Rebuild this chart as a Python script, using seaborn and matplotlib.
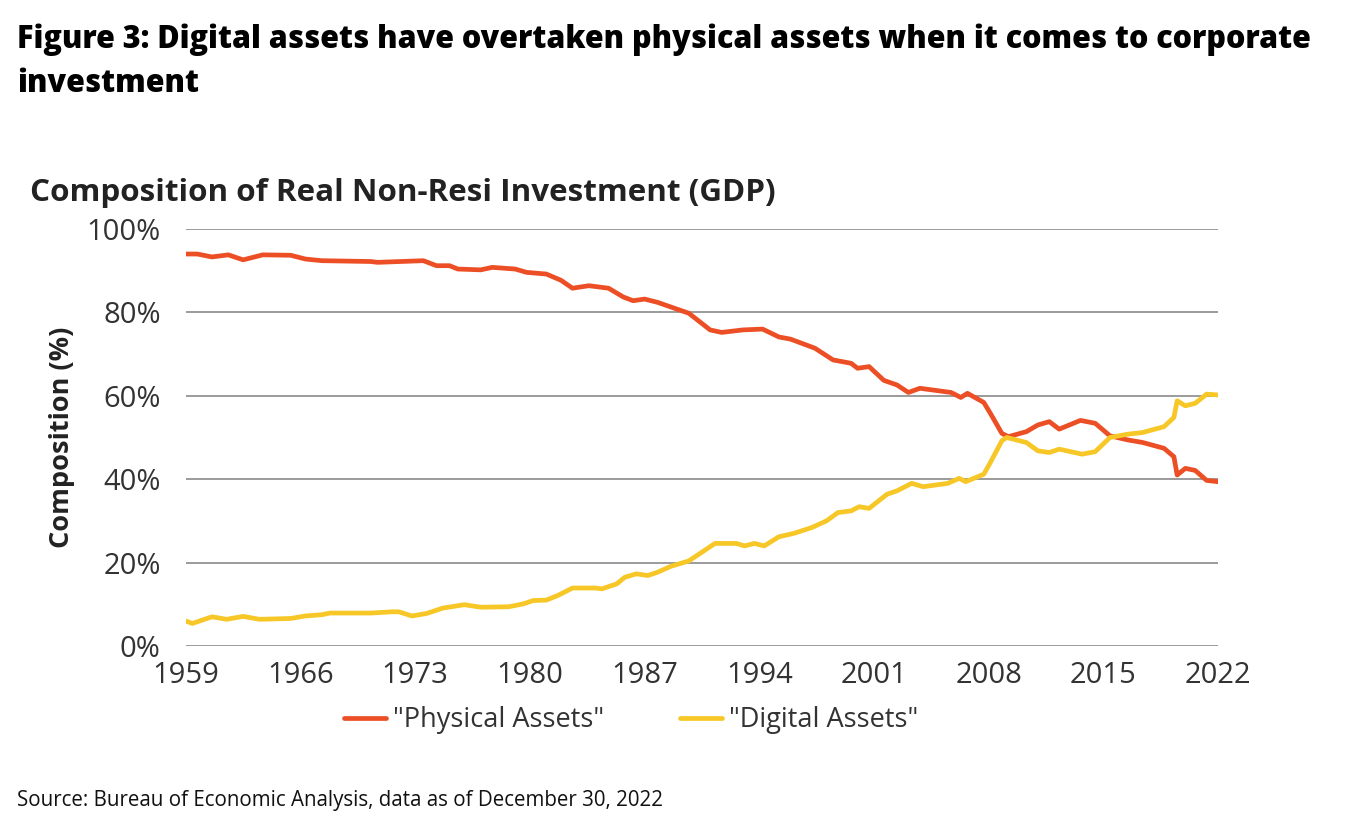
import pandas as pd
import matplotlib.pyplot as plt
import seaborn as sns

# Values (year, % share)
phys_year = [1959.0, 1959.7, 1960.6, 1961.6, 1962.5, 1963.7, 1965.4, 1966.3, 1967.3,
             1970.3, 1970.7, 1973.5, 1974.3, 1975.1, 1975.6, 1977.0, 1977.7, 1979.1,
             1979.8, 1981.0, 1981.9, 1982.6, 1983.6, 1984.8, 1985.7, 1986.3, 1987.0,
             1987.8, 1988.6, 1989.7, 1991.0, 1991.7, 1993.0, 1994.2, 1995.2, 1995.9,
             1997.4, 1998.5, 1999.6, 2000.0, 2000.7, 2001.6, 2002.4, 2003.1, 2003.8,
             2005.7, 2006.3, 2006.7, 2007.7, 2008.1, 2008.8, 2009.2, 2010.3, 2011.0,
             2011.7, 2012.3, 2013.6, 2014.5, 2015.4, 2016.5, 2017.4, 2018.7, 2019.3,
             2019.5, 2020.0, 2020.6, 2021.3, 2022.0]
phys_val = [94.0, 94.0, 93.3, 93.8, 92.6, 93.8, 93.7, 92.8, 92.4,
            92.2, 92.0, 92.4, 91.2, 91.2, 90.4, 90.2, 90.8, 90.4,
            89.6, 89.2, 87.7, 85.8, 86.4, 85.8, 83.7, 82.8, 83.2,
            82.4, 81.3, 79.8, 75.8, 75.2, 75.8, 76.0, 74.1, 73.6,
            71.4, 68.6, 67.8, 66.6, 67.0, 63.7, 62.6, 60.8, 61.8,
            60.8, 59.6, 60.6, 58.4, 55.8, 51.0, 50.2, 51.4, 53.0,
            53.8, 52.0, 54.1, 53.4, 50.4, 49.4, 48.8, 47.4, 45.4,
            41.0, 42.6, 42.1, 39.7, 39.4]

dig_year = [1959.0, 1959.4, 1960.6, 1961.5, 1962.5, 1963.5, 1965.4, 1966.3, 1967.3,
            1967.8, 1970.3, 1971.6, 1972.0, 1972.8, 1973.7, 1974.7, 1976.0, 1977.0,
            1978.7, 1979.6, 1980.2, 1981.0, 1981.7, 1982.6, 1984.0, 1984.4, 1985.3,
            1985.8, 1986.5, 1987.2, 1987.8, 1988.6, 1989.7, 1991.3, 1992.6, 1993.1,
            1993.7, 1994.3, 1995.2, 1996.1, 1997.2, 1998.1, 1998.8, 1999.6, 2000.1,
            2000.7, 2001.8, 2002.4, 2003.3, 2004.0, 2005.5, 2006.2, 2006.6, 2007.7,
            2008.1, 2008.8, 2009.1, 2010.3, 2011.0, 2011.7, 2012.3, 2013.7, 2014.5,
            2015.4, 2016.5, 2017.4, 2018.7, 2019.3, 2019.5, 2020.0, 2020.6, 2021.3,
            2022.0]
dig_val = [6.0, 5.4, 7.0, 6.4, 7.1, 6.4, 6.6, 7.2, 7.5,
           7.9, 7.9, 8.2, 8.2, 7.2, 7.8, 9.1, 9.9, 9.3,
           9.4, 10.1, 10.9, 11.0, 12.1, 13.9, 13.9, 13.7, 14.9,
           16.5, 17.3, 16.9, 17.7, 19.1, 20.4, 24.6, 24.6, 24.0,
           24.6, 24.0, 26.2, 27.0, 28.4, 30.0, 32.0, 32.4, 33.4,
           33.0, 36.4, 37.2, 39.0, 38.2, 39.0, 40.2, 39.4, 41.2,
           44.0, 49.2, 50.0, 48.8, 46.8, 46.4, 47.2, 46.0, 46.6,
           50.0, 50.8, 51.2, 52.6, 54.8, 58.8, 57.6, 58.2, 60.4,
           60.2]

x_ticks = [1959, 1966, 1973, 1980, 1987, 1994, 2001, 2008, 2015, 2022]
y_ticks = [0, 20, 40, 60, 80, 100]

phys_df = pd.DataFrame({"year": phys_year, "value": phys_val})
dig_df = pd.DataFrame({"year": dig_year, "value": dig_val})

sns.set_theme(style="white")
plt.rcParams["font.family"] = ["Open Sans", "DejaVu Sans"]

fig = plt.figure(figsize=(13.46, 8.30), dpi=100)
ax = fig.add_axes([0.138, 0.2217, 0.767, 0.5024])

red = "#EC4F25"
yellow = "#F6C726"

sns.lineplot(data=phys_df, x="year", y="value", ax=ax, color=red, linewidth=3.4,
             label='"Physical Assets"')
sns.lineplot(data=dig_df, x="year", y="value", ax=ax, color=yellow, linewidth=3.4,
             label='"Digital Assets"')

ax.set_xlim(1959, 2022)
ax.set_ylim(0, 100)
ax.set_xticks(x_ticks)
ax.set_yticks(y_ticks)
ax.set_yticklabels([f"{v}%" for v in y_ticks])
ax.yaxis.grid(True, color="#8a8a8a", linewidth=1.2)
ax.set_axisbelow(True)
for s in ax.spines.values():
    s.set_visible(False)
ax.tick_params(axis="both", labelsize=21, colors="#333333", length=0)
ax.tick_params(axis="x", pad=11)
ax.tick_params(axis="y", pad=18)
ax.set_xlabel("")
ax.set_ylabel("Composition (%)", fontsize=19.5, fontweight="bold", color="#222222",
              labelpad=8)

handles, labels = ax.get_legend_handles_labels()
ax.legend_.remove()
fig.legend(handles, labels, loc="center", bbox_to_anchor=(0.469, 0.132), ncol=2,
           frameon=False, fontsize=19.5, handlelength=1.55, handletextpad=0.25,
           columnspacing=2.8, labelcolor="#333333")

# titles and source
fig.text(0.013, 0.972, "Figure 3: Digital assets have overtaken physical assets when it comes to corporate\ninvestment",
         fontsize=22, fontweight="heavy", color="black", va="top", linespacing=1.5)
fig.text(0.022, 0.767, "Composition of Real Non-Resi Investment (GDP)", fontsize=22.6,
         fontweight="bold", color="#222222", va="center")
fig.text(0.013, 0.035, "Source: Bureau of Economic Analysis, data as of December 30, 2022",
         fontsize=14.8, color="#111111", va="center")

plt.savefig("out.png", dpi=100)
